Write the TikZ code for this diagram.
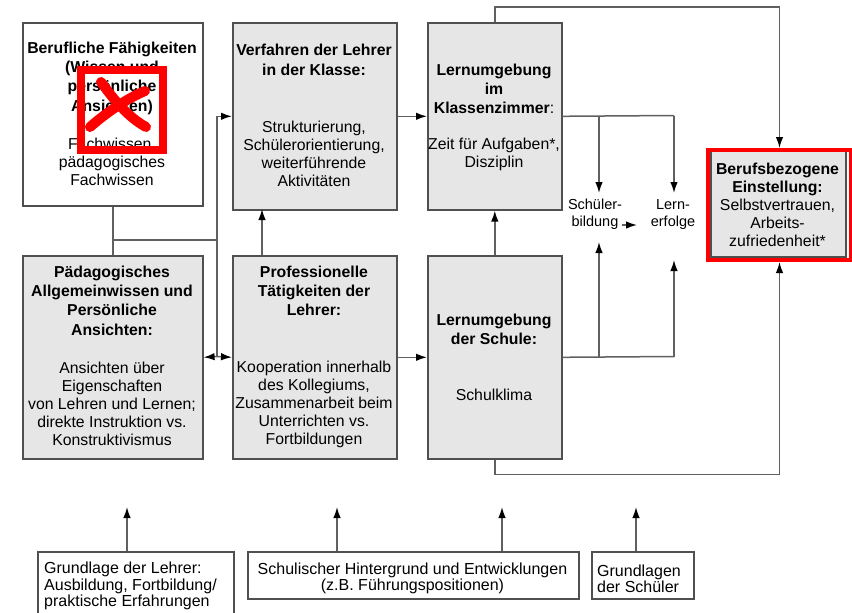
\documentclass[tikz,border=0pt]{standalone}
\usepackage{fontspec}
\setmainfont{Liberation Sans}
\usetikzlibrary{arrows.meta,calc}
\definecolor{boxgray}{HTML}{E6E6E6}
\definecolor{bordercol}{HTML}{505050}
\definecolor{linecol}{HTML}{606060}
\definecolor{xred}{HTML}{FF0000}
\newcommand\fsbody{\fontsize{15.8}{18}\selectfont}
\newcommand\fshead{\fontsize{15.8}{19.3}\selectfont\bfseries}
\newcommand\fssmall{\fontsize{14.5}{17}\selectfont}
\newcommand\fsbot{\fontsize{16}{16.3}\selectfont}
\begin{document}
\begin{tikzpicture}[x=1pt,y=-1pt,
  box/.style={draw=bordercol, line width=1.6pt, fill=boxgray, inner sep=0pt, anchor=north west},
  wbox/.style={box, fill=white},
  conn/.style={draw=linecol, line width=1.5pt},
  arr/.style={conn, -{Latex[length=11pt,width=7.5pt,color=black]}},
  head/.style={align=center, inner sep=0pt, font=\fshead},
  body/.style={align=center, inner sep=0pt, font=\fsbody},
  small/.style={align=center, inner sep=0pt, font=\fssmall},
  bot/.style={inner sep=0pt, font=\fsbot},
]
\useasboundingbox[fill=white] (0,0) rectangle (852,613);

% main boxes
\node[wbox, minimum width=180pt, minimum height=183pt] (A) at (22,22) {};
\node[box, minimum width=164pt, minimum height=187pt] (B) at (232,22) {};
\node[box, minimum width=134pt, minimum height=187pt] (C) at (427,22) {};
\node[box, minimum width=180pt, minimum height=203pt] (D) at (22,255) {};
\node[box, minimum width=164pt, minimum height=203pt] (E) at (232,255) {};
\node[box, minimum width=134pt, minimum height=203pt] (F) at (427,255) {};
\node[box, minimum width=135pt, minimum height=106pt] (G) at (710,150) {};
\node[draw=xred, line width=4pt, minimum width=143pt, minimum height=110pt, inner sep=0pt, anchor=north west] (Gr) at (706,148) {};

% bottom boxes
\node[wbox, minimum width=196pt, minimum height=80pt] (H) at (37,551) {};
\node[wbox, minimum width=331pt, minimum height=47pt] (I) at (247,551) {};
\node[wbox, minimum width=102pt, minimum height=47pt] (J) at (591,551) {};

% texts
\node[head] (At) at (112,78) {Berufliche Fähigkeiten\\(Wissen und\\persönliche\\Ansichten)};
\node[body] (Ab) at (112,161.5) {Fachwissen,\\pädagogisches\\Fachwissen};
\node[head] (Bt) at (314,60) {Verfahren der Lehrer\\in der Klasse:};
\node[body] (Bb) at (314,153.5) {Strukturierung,\\Schülerorientierung,\\weiterführende\\Aktivitäten};
\node[head] (Ct) at (494,89) {Lernumgebung\\im\\Klassenzimmer\mdseries:};
\node[body] (Cb) at (494,154) {Zeit für Aufgaben*,\\Disziplin};
\node[head] (Dt) at (112,300.5) {Pädagogisches\\Allgemeinwissen und\\Persönliche\\Ansichten:};
\node[body] (Db) at (112,404) {Ansichten über\\Eigenschaften\\von Lehren und Lernen;\\direkte Instruktion vs.\\Konstruktivismus};
\node[head] (Et) at (314,291) {Professionelle\\Tätigkeiten der\\Lehrer:};
\node[body] (Eb) at (314,404) {Kooperation innerhalb\\des Kollegiums,\\Zusammenarbeit beim\\Unterrichten vs.\\Fortbildungen};
\node[head] (Ft) at (494,329.5) {Lernumgebung\\der Schule:};
\node[body] (Fb) at (494,395) {Schulklima};
\node[body] (Gt) at (777.5,204.5) {\bfseries Berufsbezogene\\\bfseries Einstellung:\\Selbstvertrauen,\\Arbeits-\\zufriedenheit*};
\node[small] (Sb) at (595,214.5) {Schüler-\\bildung};
\node[small] (Le) at (673,214.5) {Lern-\\erfolge};
\node[bot, align=left, anchor=west] (Ht) at (44,586) {Grundlage der Lehrer:\\Ausbildung, Fortbildung/\\praktische Erfahrungen};
\node[bot, align=center] (It) at (412.5,578.5) {Schulischer Hintergrund und Entwicklungen\\(z.B. Führungspositionen)};
\node[bot, align=left, anchor=west] (Jt) at (597,578.5) {Grundlagen\\der Schüler};

% red cross mark
\node[draw=xred, line width=8pt, minimum width=82pt, minimum height=80pt, inner sep=0pt, anchor=north west] (X) at (77,66) {};
\draw[xred, line width=10pt, line cap=round] (101,82) .. controls (114,100) and (128,117) .. (146,127);
\draw[xred, line width=10pt, line cap=round] (145,91) .. controls (126,99) and (106,113) .. (90,127);

% connector junctions
\coordinate (j1) at (112,240);
\coordinate (j2) at (217,240);
\coordinate (j3) at (217,356.5);
\coordinate (ce1) at (599,115.5);
\coordinate (ce2) at (674,115.5);
\coordinate (fe1) at (599,356.5);
\coordinate (fe2) at (674,356.5);
\coordinate (sbT) at (599,193);
\coordinate (leT) at (674,193);
\coordinate (sbB) at (599,242);
\coordinate (leB) at (674,260);
\coordinate (sbR) at (622,225);
\coordinate (leL) at (637,225);
\coordinate (eN) at (262,255);
\coordinate (bS) at (262,209);

% connectors
\draw[conn] (A.south) -- (D.north);
\draw[conn] (j1) -- (j2) -- (j3);
\draw[arr] (j2) |- (B.west);
\draw[arr] (j3) -- (D.east);
\draw[arr] (j3) -- (E.west);
\draw[arr] (eN) -- (bS);
\draw[arr] (B.east) -- (C.west);
\draw[arr] (E.east) -- (F.west);
\draw[arr] (F.north) -- (C.south);
\draw[arr] (C.north) -- ++(0,-15) -| (Gr.north);
\draw[arr] (F.south) -- ++(0,15) -| (Gr.south);
\draw[conn] (C.east) -- (ce2);
\draw[arr] (ce1) -- (sbT);
\draw[arr] (ce2) -- (leT);
\draw[conn] (F.east) -- (fe2);
\draw[arr] (fe1) -- (sbB);
\draw[arr] (fe2) -- (leB);
\draw[arr] (sbR) -- (leL);

% bottom arrows
\coordinate (h1) at (127,507);
\coordinate (i1) at (337,507);
\coordinate (i2) at (502,507);
\coordinate (k1) at (636,507);
\draw[arr] (h1 |- H.north) -- (h1);
\draw[arr] (i1 |- I.north) -- (i1);
\draw[arr] (i2 |- I.north) -- (i2);
\draw[arr] (k1 |- J.north) -- (k1);
\end{tikzpicture}
\end{document}
